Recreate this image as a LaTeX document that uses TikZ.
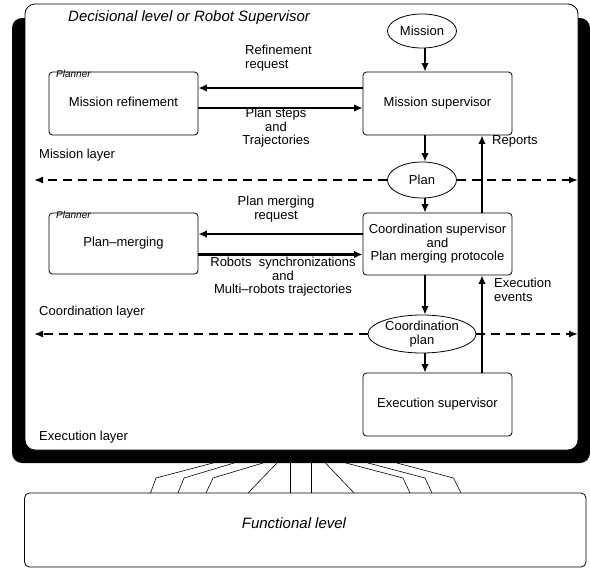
\documentclass[tikz,border=0pt]{standalone}
\usepackage{fontspec}
\setmainfont{Liberation Sans}
\usetikzlibrary{shapes.geometric,arrows.meta}
\begin{document}
\begin{tikzpicture}[x=1pt,y=-1pt, font=\fontsize{13}{13.5}\selectfont,
 box/.style={draw, rounded corners=3.5pt, line width=0.8pt, fill=white, inner sep=0pt, minimum width=149pt},
 ell/.style={draw, ellipse, line width=0.8pt, fill=white, inner sep=0pt},
 flow/.style={line width=2.6pt, -{Latex[length=8.5pt,width=7.5pt]}},
 dline/.style={line width=1.6pt, dash pattern=on 9pt off 6pt, -{Latex[length=9pt,width=7pt]}},
 fan/.style={line width=0.6pt},
 lbl/.style={inner sep=0pt, align=center},
 tag/.style={font=\fontsize{10}{10}\selectfont\itshape, inner sep=0pt, anchor=base west},
 big/.style={font=\fontsize{15}{15}\selectfont\itshape, inner sep=0pt}]

\fill[white] (0,0) rectangle (590,568);
\useasboundingbox (0,0) rectangle (590,568);

% supervisor frame
\fill[black, rounded corners=10pt] (12,18) rectangle (590,463);
\draw[fill=white, line width=0.8pt, rounded corners=10pt] (25,4) rectangle (578,450);

\node[big, anchor=base west] (title) at (68,21) {Decisional level or Robot Supervisor};

% nodes
\node[ell, minimum width=69pt, minimum height=34pt] (mission) at (422,31) {Mission};
\node[box, minimum height=63pt] (msup) at (437.5,103.5) {\raisebox{1.5pt}{Mission supervisor}};
\node[box, minimum height=63pt] (mref) at (123.5,103.5) {\raisebox{3pt}{Mission refinement}};
\node[tag] (pl1) at (56,77) {Planner};

\node[ell, minimum width=69pt, minimum height=36pt] (plan) at (422,180) {Plan};

\node[box, minimum height=62pt, align=center] (csup) at (437.5,244) {Coordination supervisor\\and\\Plan merging protocole};
\node[box, minimum height=61pt] (pm) at (123.5,243.5) {\raisebox{2pt}{Plan\textendash merging}};
\node[tag] (pl2) at (56,218) {Planner};

\node[ell, minimum width=108pt, minimum height=38pt, align=center] (cplan) at (422,334) {Coordination\\plan};

\node[box, minimum height=63pt] (exec) at (437.5,404.5) {\raisebox{1.5pt}{Execution supervisor}};

\node[draw, rounded corners=5pt, line width=0.8pt, inner sep=0pt, minimum width=561.5pt, minimum height=74pt] (func) at (305.25,530) {};
\node[big] (funct) at (294,523) {Functional level};

% layer labels
\node[lbl, anchor=west] (ml) at (39,155) {Mission layer};
\node[lbl, anchor=west] (cl) at (39,312) {Coordination layer};
\node[lbl, anchor=west] (el) at (39,437) {Execution layer};

% connector labels
\node[lbl, align=left, anchor=west] (rr) at (245,58) {Refinement\\request};
\node[lbl] (ps) at (276,128) {Plan steps\\and\\Trajectories};
\node[lbl, anchor=west] (rep) at (492,141) {Reports};
\node[lbl] (pmr) at (276,209) {Plan merging\\request};
\node[lbl] (rs) at (283,277) {Robots\ \ synchronizations\\and\\Multi\textendash robots trajectories};
\node[lbl, align=left, anchor=west] (ee) at (494,290) {Execution\\events};

% dashed layer lines
\coordinate (l1) at (34,180);
\coordinate (r1) at (578,180);
\coordinate (l2) at (34,334);
\coordinate (r2) at (578,334);
\draw[dline] (plan.west) -- (l1);
\draw[dline] (plan.east) -- (r1);
\draw[dline] (cplan.west) -- (l2);
\draw[dline] (cplan.east) -- (r2);

% vertical flows
\coordinate (ax) at (425,0);
\coordinate (rx) at (482,0);
\draw[flow] (mission.south -| ax) -- (msup.north -| ax);
\draw[flow] (msup.south -| ax) -- (plan.north -| ax);
\draw[flow] (plan.south -| ax) -- (csup.north -| ax);
\draw[flow] (csup.south -| ax) -- (cplan.north -| ax);
\draw[flow] (cplan.south -| ax) -- (exec.north -| ax);
\draw[flow] (csup.north -| rx) -- (msup.south -| rx);
\draw[flow] (exec.north -| rx) -- (csup.south -| rx);

% horizontal flows
\coordinate (h1) at ([yshift=15.5pt]msup.west);
\coordinate (h2) at ([yshift=-4.5pt]mref.east);
\coordinate (h3) at ([yshift=10pt]csup.west);
\coordinate (h4) at ([yshift=-11pt]pm.east);
\draw[flow] (h1) -- (h1 -| mref.east);
\draw[flow] (h2) -- (h2 -| msup.west);
\draw[flow] (h3) -- (h3 -| pm.east);
\draw[flow] (h4) -- (h4 -| csup.west);

% fan of links to the functional level
\foreach \a/\b/\c in {213/156/150.5, 234/184/178, 263/213/206, 397/453.5/461, 368/425/432, 346/403/410}
  \draw[fan] (\a,463) -- (\b,478) -- (\c,493);
\foreach \a/\c in {277/248, 290.5/290.5, 311.6/311.6, 325.5/354}
  \draw[fan] (\a,463) -- (\c,493);
\end{tikzpicture}
\end{document}
